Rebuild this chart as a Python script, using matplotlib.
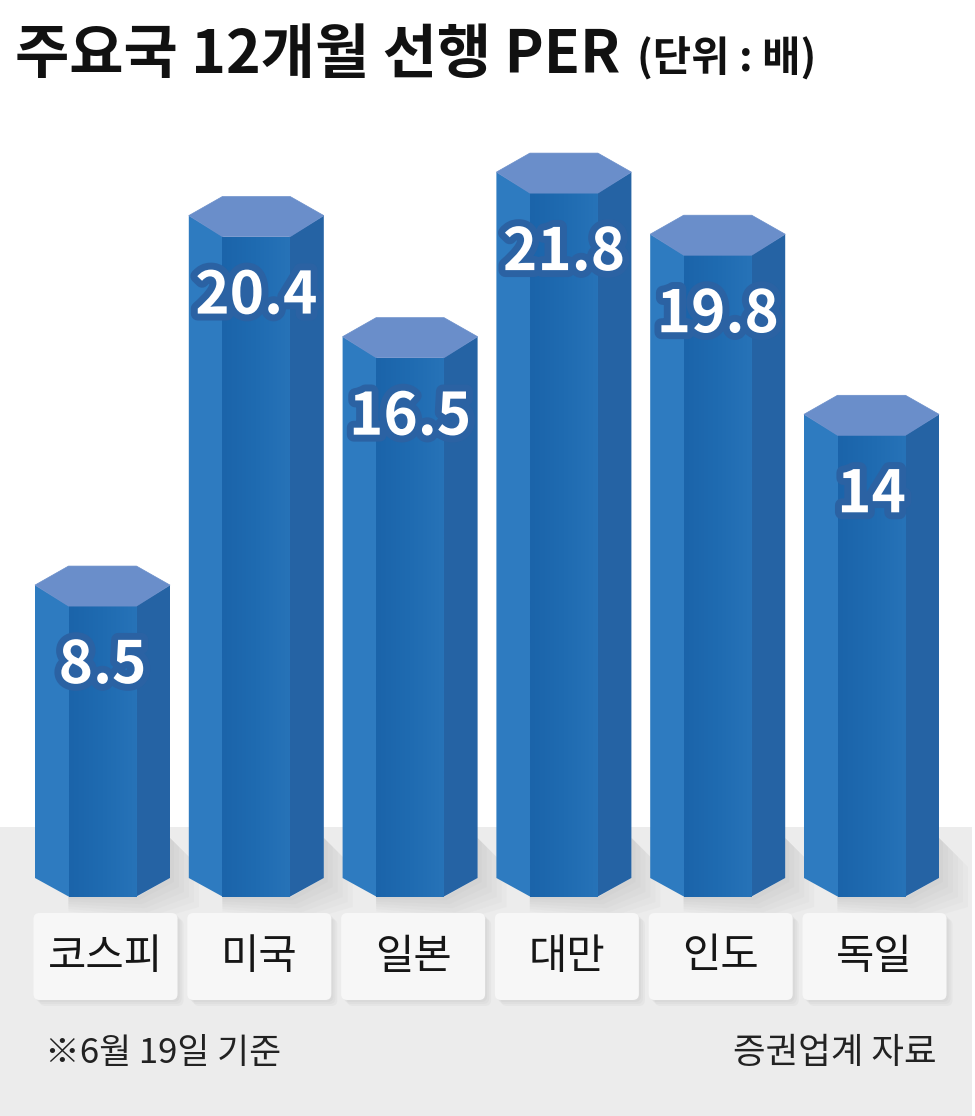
import matplotlib
matplotlib.use("Agg")
import matplotlib.pyplot as plt
import matplotlib.patheffects as pe
from matplotlib.patches import Polygon, Rectangle, FancyBboxPatch
import numpy as np

plt.rcParams['font.family'] = ['Noto Sans CJK KR', 'DejaVu Sans']

# data
countries = ["코스피", "미국", "일본", "대만", "인도", "독일"]
per_values = [8.5, 20.4, 16.5, 21.8, 19.8, 14]
title = "주요국 12개월 선행 PER"
unit = "(단위 : 배)"
note = "※6월 19일 기준"
source = "증권업계 자료"

W, H = 975, 1116
PX_X = 153.8    # px per category
PX_Y = 31.05    # px per PER unit
X0_PX = 102.5   # px centre of first bar
Y0_PX = 830     # px row of PER = 0

fig = plt.figure(figsize=(W / 100, H / 100), dpi=100)
fig.patch.set_facecolor("white")
ax = fig.add_axes([0, 0, 1, 1])
ax.set_xlim(-X0_PX / PX_X, (W - X0_PX) / PX_X)
ax.set_ylim(-(H - Y0_PX) / PX_Y, Y0_PX / PX_Y)
ax.axis("off")


def px_x(p):
    return p / PX_X


def px_y(p):
    return p / PX_Y


# grey floor
ax.add_patch(Rectangle((ax.get_xlim()[0], ax.get_ylim()[0]), px_x(972),
                       px_y(H - 827), facecolor="#ececec", edgecolor="none", zorder=0))

hw = px_x(67.5)      # half width of prism
fw = px_x(34)        # half width of front face
d_side = px_y(19)
d_front = px_y(40)
bot_side = -px_y(878 - Y0_PX)
bot_front = -px_y(897 - Y0_PX)

grad = np.linspace(0, 1, 64).reshape(1, -1)
front_cmap = matplotlib.colors.LinearSegmentedColormap.from_list(
    "front", ["#1b64aa", "#1f6bb1", "#2773b8"])

for i, v in enumerate(per_values):
    # soft shadow on the floor, built from a few faint layers
    for k in range(6):
        grow = 4 + 5 * k
        sh = Polygon([(i - fw, bot_front), (i + fw, bot_front), (i + hw, bot_side),
                      (i + hw, bot_side + px_y(40)),
                      (i + hw + px_x(grow), bot_side + px_y(40) - px_y(grow)),
                      (i + hw + px_x(grow), bot_side - px_y(grow)),
                      (i + fw + px_x(grow * 0.6), bot_front - px_y(grow * 0.8)),
                      (i - fw, bot_front - px_y(grow * 0.5))],
                     closed=True, facecolor="#9a9a9a", edgecolor="none",
                     alpha=0.05, zorder=1)
        ax.add_patch(sh)

    left = Polygon([(i - hw, v - d_side), (i - fw + px_x(1), v - d_front),
                    (i - fw + px_x(1), bot_front), (i - hw, bot_side)],
                   closed=True, facecolor="#2e7bc0", edgecolor="none", zorder=2)
    right = Polygon([(i + hw, v - d_side), (i + fw - px_x(1), v - d_front),
                     (i + fw - px_x(1), bot_front), (i + hw, bot_side)],
                    closed=True, facecolor="#2563a4", edgecolor="none", zorder=2)
    front = Polygon([(i - fw, v - d_front), (i + fw, v - d_front),
                     (i + fw, bot_front), (i - fw, bot_front)],
                    closed=True, facecolor="#1f69ae", edgecolor="none", zorder=2.2)
    top = Polygon([(i - fw, v), (i + fw, v), (i + hw, v - d_side),
                   (i + fw, v - d_front), (i - fw, v - d_front), (i - hw, v - d_side)],
                  closed=True, facecolor="#6a8eca", edgecolor="#6a8eca",
                  linewidth=0.5, zorder=3)
    for p in (left, right, front, top):
        ax.add_patch(p)
    img = ax.imshow(grad, cmap=front_cmap, aspect="auto", zorder=2.5,
                    extent=[i - fw, i + fw, bot_front, v - d_front])
    img.set_clip_path(front)

    ax.text(i, v - px_y(100), f"{v:g}", ha="center", va="center",
            fontsize=42, fontweight="bold", color="white", zorder=5,
            path_effects=[pe.Stroke(linewidth=10, foreground="#2b62a3"), pe.Normal()])

    # label box with soft shadow
    bx = i + px_x(3) - px_x(72)
    by = -px_y(1000 - Y0_PX)
    bw, bh = px_x(144), px_y(87)
    asp = PX_X / PX_Y
    for k in range(3):
        off = 2 + 2 * k
        shadow = FancyBboxPatch((bx + px_x(off), by - px_y(off)), bw, bh,
                                boxstyle=f"round,pad=0,rounding_size={px_x(6)}",
                                mutation_aspect=asp, facecolor="#b5b5b5",
                                edgecolor="none", alpha=0.12, zorder=3)
        ax.add_patch(shadow)
    box = FancyBboxPatch((bx, by), bw, bh,
                         boxstyle=f"round,pad=0,rounding_size={px_x(6)}",
                         mutation_aspect=asp, facecolor="#f7f7f7",
                         edgecolor="none", zorder=4)
    ax.add_patch(box)
    ax.text(i + px_x(3), -px_y(957 - Y0_PX), countries[i], ha="center", va="center",
            fontsize=30, color="#161616", zorder=5)

# title
fig.text(15 / W, 1 - 56 / H, title, ha="left", va="center",
         fontsize=42.5, fontweight="bold", color="#111111")
fig.text(637 / W, 1 - 59 / H, unit, ha="left", va="center",
         fontsize=30, fontweight="bold", color="#111111")

# footer
fig.text(45 / W, 1 - 1053 / H, note, ha="left", va="center",
         fontsize=25, color="#222222")
fig.text(937 / W, 1 - 1053 / H, source, ha="right", va="center",
         fontsize=25.5, color="#222222")

fig.savefig("out.png", dpi=100)
